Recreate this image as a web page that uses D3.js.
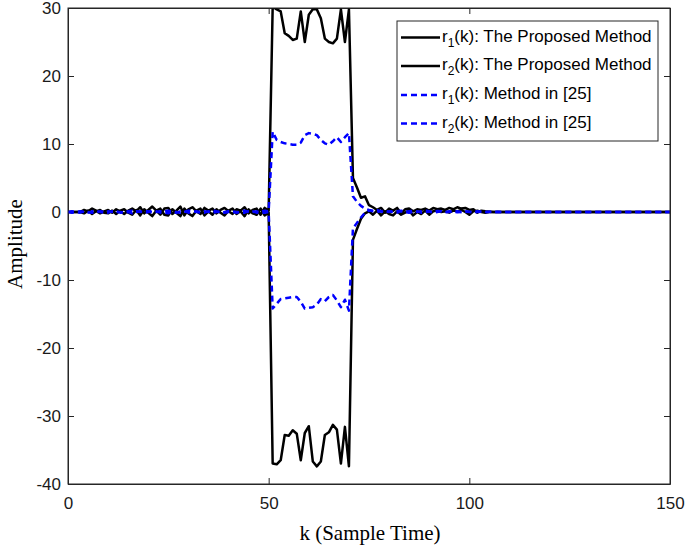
<!DOCTYPE html>
<html>
<head>
<meta charset="utf-8">
<script src="https://cdn.jsdelivr.net/npm/d3@7"></script>
<style>
  html, body { margin: 0; padding: 0; background: #fff; }
  svg { display: block; }
</style>
</head>
<body>
<svg id="chart" width="685" height="546"></svg>
<script>
// ---------- DATA ----------
const kValues = d3.range(0, 151); // sample index k = 0..150
const xTicks = [0, 50, 100, 150];
const yTicks = [-40, -30, -20, -10, 0, 10, 20, 30];

// r1(k): The Proposed Method
const r1Proposed = [
  0, 0, 0, 0, 0.3, 0.1, 0.5, 0.2, -0.2, 0.1,
  0.3, -0.1, 0.4, 0.1, -0.3, 0.2, 0.5, 0.1, 0.7, -0.2,
  0.3, 0.8, 0.2, -0.4, 0.5, 0.6, -0.3, 0.2, 0.8, -0.5,
  0.4, 0.7, 0.1, -0.3, 0.6, 0.2, 0.5, -0.2, 0.3, 0.6,
  0.1, -0.3, 0.4, 0.2, 0.7, -0.2, 0.3, 0.5, -0.4, 0.6,
  0.2, 30.2, 29.8, 29.5, 26.3, 25.9, 25.3, 25.5, 29.5, 25.0,
  29.0, 29.8, 29.8, 28.5, 25.5, 25.0, 24.8, 25.5, 29.8, 25.0,
  29.8, 5.0, 3.6, 2.1, 2.3, 1.0, 0.7, 0.3, 0.6, -0.1,
  0.5, 0.2, 0.6, -0.2, 0.4, 0.5, 0.1, 0.4, 0.3, 0.5,
  0.2, 0.6, 0.4, 0.5, 0.3, 0.6, 0.4, 0.7, 0.5, 0.6,
  0.3, 0.4, -0.1, 0.2, 0.1, 0.05, 0, 0, 0, 0,
  0, 0, 0, 0, 0, 0, 0, 0, 0, 0,
  0, 0, 0, 0, 0, 0, 0, 0, 0, 0,
  0, 0, 0, 0, 0, 0, 0, 0, 0, 0,
  0, 0, 0, 0, 0, 0, 0, 0, 0, 0,
  0
];

// r2(k): The Proposed Method
const r2Proposed = [
  0, 0, 0, 0, -0.2, 0.2, -0.3, 0.1, 0.3, -0.1,
  -0.2, 0.2, -0.3, 0.2, 0.4, -0.1, -0.4, 0.3, -0.5, 0.4,
  -0.1, -0.6, 0.2, 0.5, -0.4, -0.5, 0.4, -0.1, -0.6, 0.5,
  -0.2, -0.6, 0.2, 0.5, -0.5, 0.1, -0.4, 0.4, -0.1, -0.5,
  0.2, 0.5, -0.3, 0.1, -0.6, 0.4, -0.2, -0.4, 0.5, -0.5,
  -0.1, -37.0, -37.1, -36.5, -32.8, -32.9, -32.1, -32.6, -36.5, -32.5,
  -31.5, -36.7, -37.4, -36.7, -32.8, -32.4, -31.3, -32.0, -37.0, -31.6,
  -37.4, -4.1, -2.5, -1.0, -0.2, 0.1, -0.4, 0.2, -0.5, 0.1,
  -0.3, -0.5, 0.1, -0.4, -0.1, 0.2, -0.5, 0.0, -0.3, 0.2,
  -0.4, 0.1, 0.2, 0.0, 0.1, -0.1, 0.2, 0.1, 0.3, 0.0,
  -0.4, 0.1, 0.2, 0.0, -0.1, 0.0, 0, 0, 0, 0,
  0, 0, 0, 0, 0, 0, 0, 0, 0, 0,
  0, 0, 0, 0, 0, 0, 0, 0, 0, 0,
  0, 0, 0, 0, 0, 0, 0, 0, 0, 0,
  0, 0, 0, 0, 0, 0, 0, 0, 0, 0,
  0
];

// r1(k): Method in [25]
const r1Ref = [
  0, 0.1, 0.0, 0.1, 0.0, -0.1, 0.1, 0.2, 0.0, -0.1,
  0.1, 0.0, 0.1, -0.1, 0.0, 0.1, 0.2, 0.0, 0.1, -0.1,
  0.0, 0.2, 0.1, -0.1, 0.1, 0.2, 0.0, -0.1, 0.1, 0.0,
  0.2, 0.1, 0.0, -0.1, 0.1, 0.0, 0.2, 0.1, -0.1, 0.0,
  0.1, 0.0, -0.1, 0.1, 0.2, 0.0, 0.1, -0.1, 0.0, 0.2,
  0.1, 11.8, 10.6, 10.3, 10.1, 10.0, 9.9, 9.9, 10.2, 11.3,
  11.6, 11.5, 11.3, 10.6, 10.1, 9.9, 10.4, 11.0, 10.3, 11.0,
  11.6, 2.3, 1.5, 0.9, 0.5, 0.3, 0.2, 0.25, 0.1, 0.2,
  0.0, 0.15, 0.1, 0.2, 0.0, 0.1, 0.15, 0.0, 0.1, 0.2,
  0.1, 0.0, 0.15, 0.1, 0.0, 0.1, 0.05, 0.1, 0.0, 0.1,
  0.05, 0.0, 0.1, 0.05, 0.0, 0.05, 0.0, 0.02, 0, 0,
  0, 0, 0, 0, 0, 0, 0, 0, 0, 0,
  0, 0, 0, 0, 0, 0, 0, 0, 0, 0,
  0, 0, 0, 0, 0, 0, 0, 0, 0, 0,
  0, 0, 0, 0, 0, 0, 0, 0, 0, 0,
  0
];

// r2(k): Method in [25]
const r2Ref = [
  0, -0.1, 0.0, -0.1, 0.1, 0.0, -0.1, -0.1, 0.1, 0.0,
  -0.1, 0.1, 0.0, 0.0, -0.1, 0.0, -0.2, 0.1, 0.0, 0.1,
  0.1, -0.1, 0.0, 0.1, -0.1, -0.2, 0.1, 0.0, -0.1, 0.1,
  -0.1, 0.0, 0.1, 0.0, -0.1, 0.1, -0.1, 0.0, 0.1, -0.1,
  0.0, 0.1, 0.0, -0.1, -0.1, 0.1, 0.0, 0.1, -0.1, -0.1,
  0.0, -14.2, -13.5, -12.8, -12.7, -12.6, -12.5, -12.5, -13.2, -14.2,
  -14.1, -14.0, -13.6, -12.8, -13.1, -12.5, -12.2, -13.0, -14.0, -12.9,
  -14.5, -2.4, -1.6, -0.8, -0.1, 0.2, 0.1, 0.0, 0.1, -0.1,
  0.1, 0.0, -0.1, 0.1, 0.0, -0.1, 0.0, 0.1, -0.1, 0.0,
  0.05, -0.1, 0.0, 0.1, -0.05, 0.0, 0.05, -0.05, 0.0, 0.05,
  0.0, -0.05, 0.0, 0.05, 0.0, 0.0, 0.02, 0, 0, 0,
  0, 0, 0, 0, 0, 0, 0, 0, 0, 0,
  0, 0, 0, 0, 0, 0, 0, 0, 0, 0,
  0, 0, 0, 0, 0, 0, 0, 0, 0, 0,
  0, 0, 0, 0, 0, 0, 0, 0, 0, 0,
  0
];

const seriesNames = ["1|: The Proposed Method", "2|: The Proposed Method", "1|: Method in [25]", "2|: Method in [25]"];
const seriesValues = [r1Proposed, r2Proposed, r1Ref, r2Ref];
const seriesColors = ["#000000", "#000000", "#0000ff", "#0000ff"];
const seriesDash = [null, null, "6,4", "6,4"];

// ---------- LAYOUT ----------
const svg = d3.select("#chart");
const L = 68, R = 670, T = 8, B = 484;
const x = d3.scaleLinear().domain([0, 150]).range([L, R]);
const y = d3.scaleLinear().domain([-40, 30]).range([B, T]);
const axisColor = "#262626";
const tickFont = "'Liberation Sans', Arial, Helvetica, sans-serif";

svg.append("rect").attr("width", 685).attr("height", 546).attr("fill", "#fff");

svg.append("clipPath").attr("id", "plotclip")
  .append("rect").attr("x", L).attr("y", T).attr("width", R - L).attr("height", B - T);

// Axes (ticks inside)
const fmt = d => String(d);
const gx = svg.append("g").attr("transform", `translate(0,${B})`)
  .call(d3.axisBottom(x).tickValues(xTicks).tickSize(-6).tickSizeOuter(0).tickPadding(13).tickFormat(fmt));
const gxt = svg.append("g").attr("transform", `translate(0,${T})`)
  .call(d3.axisTop(x).tickValues(xTicks).tickSize(-6).tickSizeOuter(0).tickFormat(""));
const gy = svg.append("g").attr("transform", `translate(${L},0)`)
  .call(d3.axisLeft(y).tickValues(yTicks).tickSize(-6).tickSizeOuter(0).tickPadding(7).tickFormat(fmt));
const gyr = svg.append("g").attr("transform", `translate(${R},0)`)
  .call(d3.axisRight(y).tickValues(yTicks).tickSize(-6).tickSizeOuter(0).tickFormat(""));

[gx, gxt, gy, gyr].forEach(g => {
  g.selectAll("path.domain").attr("stroke", axisColor).attr("stroke-width", 1);
  g.selectAll(".tick line").attr("stroke", axisColor).attr("stroke-width", 1);
  g.selectAll(".tick text").attr("fill", "#1a1a1a")
    .style("font-family", tickFont).style("font-size", "17px");
});

// Lines
const line = d3.line().x((d, i) => x(kValues[i])).y(d => y(d));
const plot = svg.append("g").attr("clip-path", "url(#plotclip)");
seriesValues.forEach((vals, i) => {
  plot.append("path")
    .datum(vals)
    .attr("d", line)
    .attr("fill", "none")
    .attr("stroke", seriesColors[i])
    .attr("stroke-width", 2.5)
    .attr("stroke-linejoin", "round")
    .attr("stroke-dasharray", seriesDash[i]);
});

// Box on top
svg.append("rect").attr("x", L).attr("y", T).attr("width", R - L).attr("height", B - T)
  .attr("fill", "none").attr("stroke", axisColor).attr("stroke-width", 1);

// Axis titles
svg.append("text")
  .attr("x", (L + R) / 2 + 1).attr("y", 540)
  .attr("text-anchor", "middle")
  .style("font-family", "'Liberation Serif', 'Times New Roman', serif")
  .style("font-size", "21px").attr("fill", "#000")
  .text("k (Sample Time)");

svg.append("text")
  .attr("transform", `translate(22,${(T + B) / 2 - 2}) rotate(-90)`)
  .attr("text-anchor", "middle")
  .style("font-family", "'Liberation Serif', 'Times New Roman', serif")
  .style("font-size", "21px").attr("fill", "#000")
  .text("Amplitude");

// Legend
const lg = svg.append("g");
lg.append("rect").attr("x", 397).attr("y", 21).attr("width", 261).attr("height", 120)
  .attr("fill", "#fff").attr("stroke", axisColor).attr("stroke-width", 1);
const rowY = [37.5, 66, 95, 123.5];
seriesNames.forEach((name, i) => {
  lg.append("line")
    .attr("x1", 401).attr("x2", 440).attr("y1", rowY[i]).attr("y2", rowY[i])
    .attr("stroke", seriesColors[i]).attr("stroke-width", 2.5)
    .attr("stroke-dasharray", seriesDash[i]);
  const parts = name.split("|");
  const t = lg.append("text")
    .attr("x", 442).attr("y", rowY[i] + 4)
    .style("font-family", tickFont).style("font-size", "17px").attr("fill", "#000");
  t.append("tspan").text("r");
  t.append("tspan").attr("dy", 5).style("font-size", "12px").text(parts[0]);
  t.append("tspan").attr("dy", -5).text("(k)" + parts[1]);
});
</script>
</body>
</html>
